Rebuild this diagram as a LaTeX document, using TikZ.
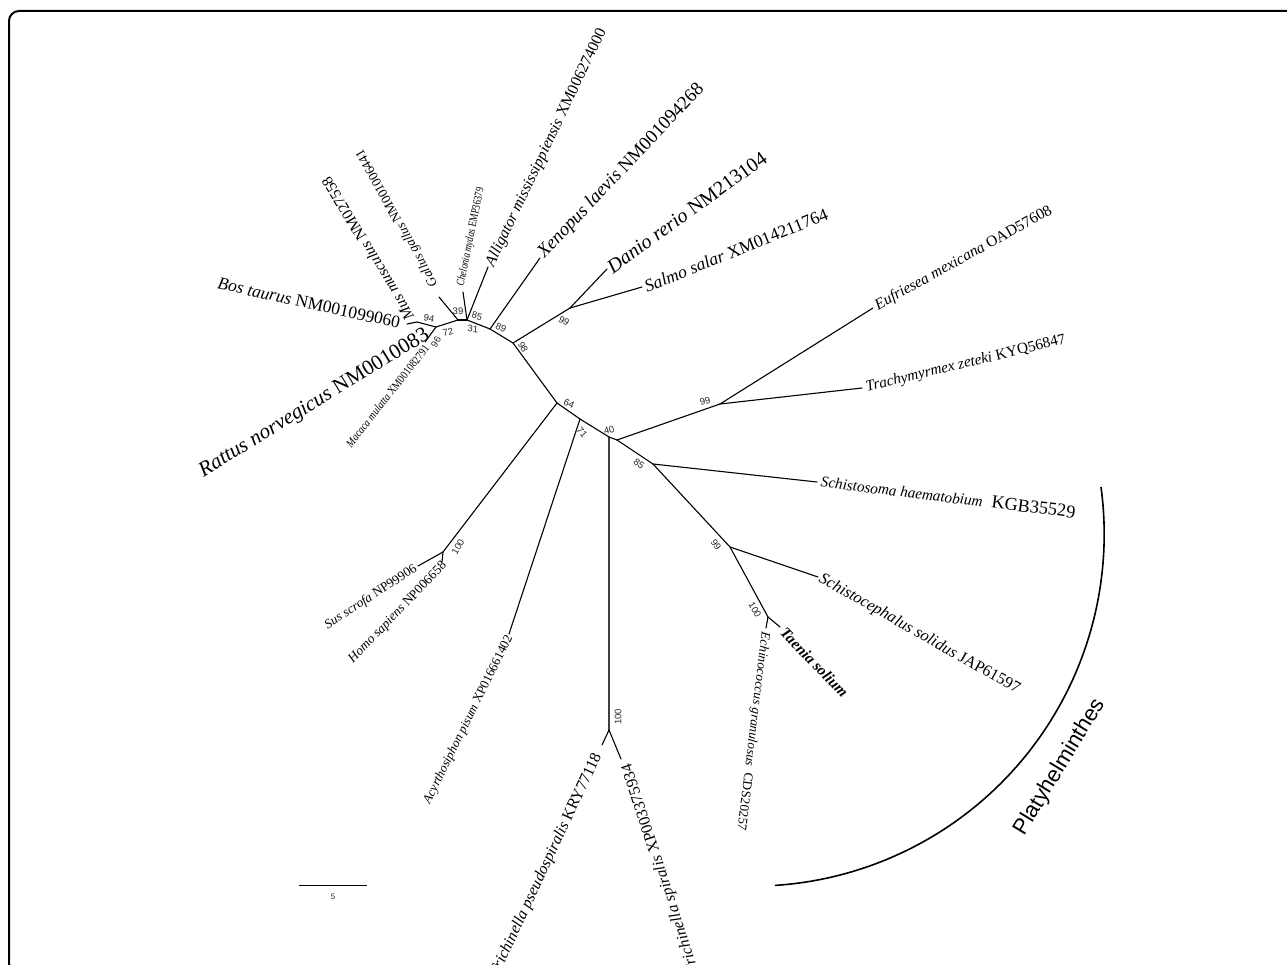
\documentclass[tikz,border=0pt]{standalone}
\usepackage{fontspec}
\setmainfont{Liberation Serif}
\newfontfamily\sansf{Liberation Sans}
\usepackage{graphicx}
\newcommand{\taxlab}[2]{\resizebox{#1pt}{!}{#2}}
\newcommand{\taxlabh}[3]{\resizebox{#1pt}{#2pt}{#3}}
\begin{document}
\begin{tikzpicture}[x=1pt,y=-1pt,
  br/.style={line width=1.1pt, line cap=round},
  bs/.style={font=\sansf\fontsize{9.5}{9.5}\selectfont, inner sep=0pt, text=black!85},
  tax/.style={inner sep=0pt}]
\useasboundingbox (0,0) rectangle (1287,965);
\clip (0,0) rectangle (1287,965);
% frame
\draw[line width=2pt, rounded corners=10pt] (9,1000) -- (9,11) -- (1300,11);
% tree coordinates
\coordinate (tMus) at (407,324);
\coordinate (J94) at (417,322);
\coordinate (J72) at (436,327);
\coordinate (tRat) at (425,342);
\coordinate (J39) at (458,320);
\coordinate (tGal) at (439,297);
\coordinate (J85) at (467,320);
\coordinate (tChe) at (463,292);
\coordinate (tAll) at (488,267);
\coordinate (J89) at (490,329);
\coordinate (tXen) at (540,258);
\coordinate (J98) at (513,343);
\coordinate (J99a) at (570,308);
\coordinate (tDan) at (607,269);
\coordinate (tSal) at (642,287);
\coordinate (J64) at (557,403);
\coordinate (J100s) at (443,552);
\coordinate (tSus) at (418,566);
\coordinate (tHom) at (442,562);
\coordinate (J71) at (580,419);
\coordinate (tAcy) at (509,634);
\coordinate (J40) at (609,437);
\coordinate (J40b) at (617,440);
\coordinate (J100t) at (609,730);
\coordinate (tTps) at (602,745);
\coordinate (tTsp) at (621,759);
\coordinate (J99i) at (720,404);
\coordinate (tEuf) at (873,308);
\coordinate (tTra) at (862,388);
\coordinate (J85f) at (653,464);
\coordinate (tSch) at (817,482);
\coordinate (J99f) at (730,547);
\coordinate (tSco) at (818,577);
\coordinate (J100f) at (768,617);
\coordinate (tTae) at (780,627);
\coordinate (tEch) at (766,628);
% branches
\draw[br] (tMus) -- (J94) -- (J72);
\draw[br] (J72) -- (tRat);
\draw[br] (J72) -- (J39);
\draw[br] (J39) -- (tGal);
\draw[br] (J39) -- (J85);
\draw[br] (J85) -- (tChe);
\draw[br] (J85) -- (tAll);
\draw[br] (J85) -- (J89);
\draw[br] (J89) -- (tXen);
\draw[br] (J89) -- (J98);
\draw[br] (J98) -- (J99a);
\draw[br] (J99a) -- (tDan);
\draw[br] (J99a) -- (tSal);
\draw[br] (J98) -- (J64);
\draw[br] (J64) -- (J100s);
\draw[br] (J100s) -- (tSus);
\draw[br] (J100s) -- (tHom);
\draw[br] (J64) -- (J71);
\draw[br] (J71) -- (tAcy);
\draw[br] (J71) -- (J40);
\draw[br, black!75] (J40) -- (J100t);
\draw[br] (J100t) -- (tTps);
\draw[br] (J100t) -- (tTsp);
\draw[br] (J40) -- (J40b);
\draw[br] (J40b) -- (J99i);
\draw[br] (J99i) -- (tEuf);
\draw[br] (J99i) -- (tTra);
\draw[br] (J40b) -- (J85f);
\draw[br] (J85f) -- (tSch);
\draw[br] (J85f) -- (J99f);
\draw[br] (J99f) -- (tSco);
\draw[br] (J99f) -- (J100f);
\draw[br] (J100f) -- (tTae);
\draw[br] (J100f) -- (tEch);
% taxon labels
\node[tax, anchor=east, rotate=31.5] (lRat) at (428,334) {\taxlab{266}{\textit{Rattus norvegicus} NM0010083}};
\node[tax, anchor=east, rotate=-12.4] (lBos) at (400,323) {\taxlab{186}{\textit{Bos taurus} NM001099060}};
\node[tax, anchor=west, rotate=121] (lMus) at (410,319) {\taxlab{164}{\textit{Mus musculus} NM027558}};
\node[tax, anchor=west, rotate=119] (lGal) at (435,286) {\taxlab{155}{\textit{Gallus gallus} NM001006441}};
\node[tax, anchor=west, rotate=78.5] (lChe) at (461,286) {\taxlabh{100}{8}{\textit{Chelonia mydas} EMP36379}};
\node[tax, anchor=east, rotate=51.7] (lMac) at (427,346) {\taxlabh{127}{8}{\textit{Macaca mulatta} XM001082791}};
\node[tax, anchor=west, rotate=64.5] (lAll) at (490,266) {\taxlab{262}{\textit{Alligator mississippiensis} XM006274000}};
\node[tax, anchor=west, rotate=46.6] (lXen) at (541,256) {\taxlab{233}{\textit{Xenopus laevis} NM001094268}};
\node[tax, anchor=west, rotate=36] (lDan) at (609,269) {\taxlab{192}{\textit{Danio rerio} NM213104}};
\node[tax, anchor=west, rotate=22] (lSal) at (645,287) {\taxlab{196}{\textit{Salmo salar} XM014211764}};
\node[tax, anchor=west, rotate=29] (lEuf) at (876,307) {\taxlab{200}{\textit{Eufriesea mexicana} OAD57608}};
\node[tax, anchor=west, rotate=13.6] (lTra) at (866,388) {\taxlab{205}{\textit{Trachymyrmex zeteki} KYQ56847}};
\node[tax, anchor=west, rotate=-7] (lSch) at (821,481) {\taxlab{256}{\textit{Schistosoma haematobium}\hspace{0.6em}{\large KGB35529}}};
\node[tax, anchor=west, rotate=-29.5] (lSco) at (820,578) {\taxlab{228}{\textit{Schistocephalus solidus} JAP61597}};
\node[tax, anchor=west, rotate=-46] (lTae) at (783,630) {\taxlab{90}{\textbf{\textit{Taenia solium}}}};
\node[tax, anchor=west, rotate=-97] (lEch) at (765,632) {\taxlab{200}{\textit{Echinococcus granulosus}\hspace{0.5em}CDS20257}};
\node[tax, anchor=east, rotate=33] (lSus) at (416,568) {\taxlab{107}{\textit{Sus scrofa} NP99906}};
\node[tax, anchor=east, rotate=46] (lHom) at (445,564) {\taxlab{135}{\textit{Homo sapiens} NP006658}};
\node[tax, anchor=east, rotate=63.6] (lAcy) at (510,636) {\taxlab{186}{\textit{Acyrthosiphon pisum} XP016661402}};
\node[tax, anchor=east, rotate=65, font=\fontsize{16}{16}\selectfont] (lTps) at (598,754) {\textit{Trichinella pseudospiralis} KRY77118};
\node[tax, anchor=east, rotate=108, font=\fontsize{16}{16}\selectfont] (lTsp) at (627,764) {\textit{Trichinella spiralis} XP003375934};
% bootstrap values
\node[bs, rotate=-12] at (429,318) {94};
\node[bs, rotate=15] at (448,332) {72};
\node[bs, rotate=60] at (436,342) {96};
\node[bs] at (458,311) {39};
\node[bs, rotate=-15] at (477,316) {85};
\node[bs, rotate=-5] at (473,329) {31};
\node[bs, rotate=-25] at (501,328) {89};
\node[bs, rotate=-60] at (523,347) {98};
\node[bs, rotate=-30] at (564,321) {99};
\node[bs, rotate=-25] at (569,404) {64};
\node[bs, rotate=-50] at (582,432) {71};
\node[bs, rotate=15] at (609,430) {40};
\node[bs, rotate=-35] at (639,464) {85};
\node[bs, rotate=15] at (705,401) {99};
\node[bs, rotate=-55] at (716,545) {99};
\node[bs, rotate=-60] at (755,610) {100};
\node[bs, rotate=90] at (618,717) {100};
\node[bs, rotate=60] at (458,547) {100};
% Platyhelminthes bracket
\draw[line width=1.6pt] (1101,487) arc[start angle=7.7, end angle=-86.3, radius=352pt];
\node[font=\sansf\fontsize{22}{22}\selectfont, rotate=58.7, inner sep=0pt] (lPla) at (1060,767) {Platyhelminthes};
% scale bar
\coordinate (sb1) at (299,885);
\coordinate (sb2) at (367,885);
\draw[line width=1pt] (sb1) -- (sb2);
\node[bs, font=\sansf\fontsize{8}{8}\selectfont] (sbl) at (333,897) {5};
\end{tikzpicture}
\end{document}
